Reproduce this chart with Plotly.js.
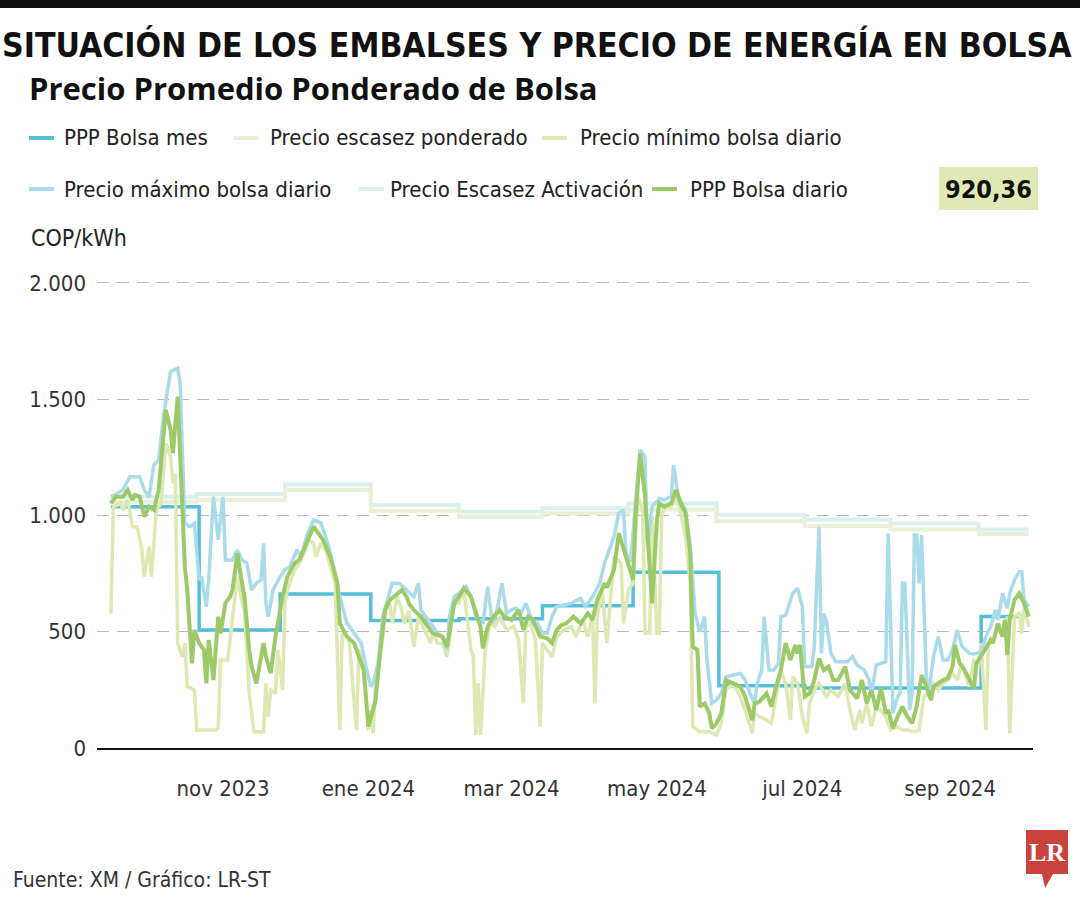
<!DOCTYPE html>
<html><head><meta charset="utf-8">
<script src="https://cdn.plot.ly/plotly-3.0.1.min.js"></script>
<style>html,body{margin:0;padding:0;background:#fff}#chart{width:1080px;height:900px}</style>
</head><body><div id="chart"></div>
<script>
// ---------- DATA ----------
const escDates = ['2023-09-15','2023-10-21','2023-11-27','2024-01-02','2024-02-08','2024-03-14','2024-04-19','2024-05-26','2024-07-02','2024-08-07','2024-09-13','2024-10-04'];
const escActivacion = [1081,1092,1134,1045,1016,1031,1052,1003,983,966,940,940];
const escPonderado = [1059,1067,1110,1020,994,1009,1026,975,955,940,920.36,920.36];

const mesDates = ['2023-09-15','2023-10-22','2023-11-25','2024-01-02','2024-02-08','2024-03-14','2024-04-21','2024-05-27','2024-07-02','2024-08-07','2024-09-14','2024-10-03'];
const mesValues = [1038,507,662,548,556,612,756,268,258,258,565,565];

const maxDates = ['2023-09-15','2023-09-17','2023-09-20','2023-09-23','2023-09-27','2023-09-29','2023-10-01','2023-10-03','2023-10-05','2023-10-07','2023-10-10','2023-10-13','2023-10-14','2023-10-15','2023-10-16','2023-10-18','2023-10-20','2023-10-22','2023-10-23','2023-10-25','2023-10-26','2023-10-28','2023-10-30','2023-11-01','2023-11-02','2023-11-05','2023-11-07','2023-11-09','2023-11-11','2023-11-13','2023-11-15','2023-11-17','2023-11-18','2023-11-19','2023-11-20','2023-11-22','2023-11-25','2023-11-27','2023-11-29','2023-12-02','2023-12-04','2023-12-06','2023-12-09','2023-12-12','2023-12-15','2023-12-17','2023-12-20','2023-12-23','2023-12-26','2023-12-29','2023-12-31','2024-01-02','2024-01-03','2024-01-05','2024-01-07','2024-01-09','2024-01-11','2024-01-14','2024-01-17','2024-01-20','2024-01-22','2024-01-23','2024-01-25','2024-01-28','2024-01-30','2024-02-01','2024-02-03','2024-02-04','2024-02-06','2024-02-08','2024-02-11','2024-02-13','2024-02-15','2024-02-18','2024-02-20','2024-02-22','2024-02-24','2024-02-26','2024-02-28','2024-03-01','2024-03-03','2024-03-05','2024-03-07','2024-03-10','2024-03-12','2024-03-14','2024-03-16','2024-03-18','2024-03-20','2024-03-23','2024-03-26','2024-03-30','2024-04-01','2024-04-04','2024-04-07','2024-04-09','2024-04-11','2024-04-13','2024-04-15','2024-04-17','2024-04-18','2024-04-20','2024-04-22','2024-04-24','2024-04-26','2024-04-27','2024-04-29','2024-05-02','2024-05-04','2024-05-07','2024-05-08','2024-05-10','2024-05-13','2024-05-15','2024-05-17','2024-05-19','2024-05-21','2024-05-22','2024-05-24','2024-05-26','2024-05-28','2024-05-30','2024-06-02','2024-06-05','2024-06-07','2024-06-09','2024-06-11','2024-06-12','2024-06-14','2024-06-15','2024-06-17','2024-06-19','2024-06-21','2024-06-22','2024-06-24','2024-06-27','2024-06-29','2024-07-01','2024-07-02','2024-07-05','2024-07-06','2024-07-08','2024-07-09','2024-07-10','2024-07-11','2024-07-13','2024-07-15','2024-07-18','2024-07-20','2024-07-22','2024-07-24','2024-07-27','2024-07-29','2024-07-30','2024-08-01','2024-08-03','2024-08-05','2024-08-06','2024-08-08','2024-08-10','2024-08-11','2024-08-12','2024-08-13','2024-08-15','2024-08-16','2024-08-17','2024-08-18','2024-08-19','2024-08-20','2024-08-22','2024-08-23','2024-08-25','2024-08-27','2024-08-29','2024-08-31','2024-09-02','2024-09-04','2024-09-06','2024-09-09','2024-09-11','2024-09-14','2024-09-16','2024-09-18','2024-09-20','2024-09-21','2024-09-23','2024-09-25','2024-09-26','2024-09-28','2024-09-30','2024-10-01','2024-10-02','2024-10-04'];
const maxValues = [1081,1090,1110,1167,1167,1110,1081,1217,1239,1425,1619,1633,1570,1282,968,952,966,723,737,608,723,1081,895,1081,809,809,852,809,795,680,709,723,880,623,565,680,737,766,780,852,823,909,981,968,880,795,651,537,493,451,350,264,278,364,565,637,709,708,680,651,708,594,565,522,493,479,422,565,651,665,694,651,565,536,694,536,594,708,579,594,601,579,622,536,536,493,493,565,608,615,622,644,608,651,708,794,852,909,1010,1024,837,800,1052,1282,1253,866,1038,1073,1067,1081,1217,1081,1024,866,579,500,565,378,192,206,235,307,314,321,292,235,192,278,335,565,335,335,364,565,572,665,687,608,350,350,436,952,407,579,551,407,371,371,371,393,357,335,292,235,357,364,371,923,149,221,235,708,708,163,235,916,916,708,916,307,235,393,479,378,378,422,508,436,407,404,414,479,522,594,551,665,601,665,723,758,758,637,608];

const minDates = ['2023-09-15','2023-09-16','2023-09-19','2023-09-20','2023-09-22','2023-09-24','2023-09-26','2023-09-28','2023-09-29','2023-10-01','2023-10-02','2023-10-04','2023-10-06','2023-10-08','2023-10-10','2023-10-11','2023-10-12','2023-10-13','2023-10-15','2023-10-16','2023-10-17','2023-10-20','2023-10-21','2023-10-29','2023-10-30','2023-10-31','2023-11-03','2023-11-05','2023-11-06','2023-11-07','2023-11-09','2023-11-10','2023-11-11','2023-11-12','2023-11-14','2023-11-18','2023-11-19','2023-11-20','2023-11-21','2023-11-23','2023-11-24','2023-11-26','2023-11-27','2023-11-28','2023-12-01','2023-12-03','2023-12-05','2023-12-07','2023-12-09','2023-12-10','2023-12-12','2023-12-14','2023-12-16','2023-12-18','2023-12-20','2023-12-21','2023-12-23','2023-12-24','2023-12-27','2023-12-28','2023-12-30','2024-01-01','2024-01-02','2024-01-03','2024-01-04','2024-01-07','2024-01-08','2024-01-10','2024-01-11','2024-01-13','2024-01-15','2024-01-16','2024-01-18','2024-01-20','2024-01-22','2024-01-24','2024-01-27','2024-01-28','2024-01-30','2024-02-01','2024-02-03','2024-02-05','2024-02-06','2024-02-08','2024-02-10','2024-02-13','2024-02-14','2024-02-15','2024-02-16','2024-02-17','2024-02-19','2024-02-21','2024-02-23','2024-02-25','2024-02-28','2024-03-02','2024-03-04','2024-03-06','2024-03-07','2024-03-09','2024-03-11','2024-03-13','2024-03-14','2024-03-16','2024-03-18','2024-03-20','2024-03-23','2024-03-26','2024-03-28','2024-03-31','2024-04-02','2024-04-04','2024-04-05','2024-04-06','2024-04-07','2024-04-08','2024-04-10','2024-04-12','2024-04-13','2024-04-16','2024-04-17','2024-04-19','2024-04-21','2024-04-23','2024-04-25','2024-04-26','2024-04-28','2024-04-29','2024-05-01','2024-05-02','2024-05-03','2024-05-05','2024-05-07','2024-05-09','2024-05-11','2024-05-13','2024-05-15','2024-05-16','2024-05-19','2024-05-23','2024-05-26','2024-05-28','2024-05-30','2024-06-02','2024-06-05','2024-06-07','2024-06-10','2024-06-11','2024-06-13','2024-06-16','2024-06-18','2024-06-20','2024-06-22','2024-06-24','2024-06-26','2024-06-27','2024-06-29','2024-07-01','2024-07-03','2024-07-04','2024-07-06','2024-07-08','2024-07-11','2024-07-13','2024-07-16','2024-07-19','2024-07-21','2024-07-23','2024-07-25','2024-07-26','2024-07-28','2024-07-30','2024-08-01','2024-08-03','2024-08-05','2024-08-07','2024-08-10','2024-08-12','2024-08-14','2024-08-17','2024-08-19','2024-08-21','2024-08-23','2024-08-25','2024-08-27','2024-08-29','2024-08-31','2024-09-02','2024-09-04','2024-09-06','2024-09-09','2024-09-11','2024-09-13','2024-09-14','2024-09-16','2024-09-17','2024-09-19','2024-09-21','2024-09-23','2024-09-25','2024-09-26','2024-09-28','2024-09-30','2024-10-01','2024-10-02','2024-10-04'];
const minValues = [579,1038,1052,1024,1067,952,952,852,737,866,737,1024,1052,1310,1253,1138,1181,451,393,451,264,249,77,77,85,378,378,565,651,737,622,594,422,235,70,70,278,135,249,235,422,249,622,680,766,794,837,895,880,823,880,852,780,709,77,493,479,451,77,422,364,77,163,64,278,465,594,622,537,651,594,536,590,436,565,522,451,493,451,451,393,565,622,622,680,422,393,56,278,56,422,536,522,565,508,522,465,192,522,536,465,92,451,422,393,479,508,522,479,551,479,565,192,565,622,680,451,680,823,794,536,680,708,1081,1024,493,493,995,493,493,1009,1038,1038,1081,1009,909,708,92,70,70,56,106,249,278,221,163,64,149,135,120,106,221,335,278,120,307,278,135,64,192,249,278,221,249,221,278,163,77,163,106,192,92,178,163,135,77,92,77,77,70,77,221,235,278,249,278,292,321,292,364,264,378,364,451,77,451,465,522,479,565,64,565,579,493,608,522];

const diaDates = ['2023-09-15','2023-09-17','2023-09-20','2023-09-22','2023-09-24','2023-09-25','2023-09-27','2023-09-29','2023-10-01','2023-10-03','2023-10-05','2023-10-06','2023-10-08','2023-10-10','2023-10-11','2023-10-13','2023-10-14','2023-10-15','2023-10-16','2023-10-17','2023-10-19','2023-10-20','2023-10-22','2023-10-24','2023-10-25','2023-10-26','2023-10-28','2023-10-30','2023-10-31','2023-11-02','2023-11-04','2023-11-05','2023-11-07','2023-11-09','2023-11-10','2023-11-12','2023-11-13','2023-11-15','2023-11-17','2023-11-18','2023-11-19','2023-11-21','2023-11-23','2023-11-26','2023-11-28','2023-12-01','2023-12-03','2023-12-06','2023-12-09','2023-12-11','2023-12-13','2023-12-16','2023-12-19','2023-12-20','2023-12-23','2023-12-26','2023-12-28','2023-12-30','2024-01-01','2024-01-02','2024-01-04','2024-01-06','2024-01-08','2024-01-10','2024-01-13','2024-01-15','2024-01-17','2024-01-18','2024-01-20','2024-01-23','2024-01-25','2024-01-28','2024-01-30','2024-02-01','2024-02-03','2024-02-04','2024-02-06','2024-02-08','2024-02-10','2024-02-13','2024-02-15','2024-02-17','2024-02-18','2024-02-20','2024-02-22','2024-02-25','2024-02-27','2024-03-01','2024-03-04','2024-03-06','2024-03-08','2024-03-10','2024-03-13','2024-03-16','2024-03-18','2024-03-20','2024-03-22','2024-03-24','2024-03-27','2024-03-30','2024-04-02','2024-04-04','2024-04-06','2024-04-09','2024-04-10','2024-04-13','2024-04-15','2024-04-17','2024-04-19','2024-04-21','2024-04-22','2024-04-24','2024-04-26','2024-04-28','2024-04-29','2024-05-01','2024-05-02','2024-05-04','2024-05-07','2024-05-09','2024-05-11','2024-05-13','2024-05-15','2024-05-16','2024-05-18','2024-05-19','2024-05-21','2024-05-23','2024-05-24','2024-05-26','2024-05-28','2024-05-30','2024-06-02','2024-06-05','2024-06-07','2024-06-10','2024-06-11','2024-06-13','2024-06-16','2024-06-18','2024-06-20','2024-06-22','2024-06-24','2024-06-26','2024-06-28','2024-06-29','2024-06-30','2024-07-02','2024-07-04','2024-07-06','2024-07-08','2024-07-10','2024-07-12','2024-07-14','2024-07-16','2024-07-19','2024-07-21','2024-07-24','2024-07-26','2024-07-28','2024-07-30','2024-08-01','2024-08-03','2024-08-05','2024-08-06','2024-08-08','2024-08-10','2024-08-12','2024-08-14','2024-08-16','2024-08-18','2024-08-19','2024-08-20','2024-08-22','2024-08-24','2024-08-25','2024-08-27','2024-08-29','2024-08-31','2024-09-02','2024-09-03','2024-09-05','2024-09-07','2024-09-09','2024-09-11','2024-09-12','2024-09-14','2024-09-16','2024-09-18','2024-09-19','2024-09-21','2024-09-23','2024-09-24','2024-09-25','2024-09-26','2024-09-28','2024-09-30','2024-10-02','2024-10-04'];
const diaValues = [1052,1081,1081,1110,1067,1088,1081,995,1038,1024,1110,1239,1454,1368,1268,1511,1282,995,780,680,364,508,451,422,278,465,292,565,493,623,651,680,837,708,651,422,350,278,393,451,393,322,479,651,737,794,809,880,952,923,895,823,708,536,479,451,393,335,92,135,206,422,594,637,665,680,651,622,594,565,536,493,486,479,436,508,622,651,687,651,579,522,429,522,558,594,565,551,594,508,565,551,479,472,451,508,529,536,565,536,579,551,637,708,690,766,923,852,780,723,995,1268,1081,809,622,981,1052,1038,1052,1110,1052,1009,837,436,422,178,192,149,85,106,149,292,278,264,221,120,192,199,235,178,264,335,451,378,443,407,443,221,235,292,385,335,350,292,292,350,249,213,292,192,249,163,257,149,163,85,135,178,135,106,178,235,314,264,206,264,278,292,300,350,443,364,335,292,257,364,393,429,465,451,536,479,551,400,551,637,665,622,565];

const monthTicks = ['2023-11-01','2024-01-01','2024-03-01','2024-05-01','2024-07-01','2024-09-01'];
const monthLabels = ['nov 2023','ene 2024','mar 2024','may 2024','jul 2024','sep 2024'];
const yTicks = [0,500,1000,1500,2000];
const yLabels = ['0','500','1.000','1.500','2.000'];
const lastValueLabel = '920,36';

// ---------- STYLE ----------
const NARROW = '"DejaVu Sans Condensed", "Liberation Sans Narrow", sans-serif';
const C = {
  mes:'#55bfda', pond:'#e8f0d8', min:'#dde8b2', max:'#a9dbeb', act:'#dbefec', dia:'#9cca69'
};
const W=1080, H=900, L=97, R=47, T=269, B=152;
const PW=W-L-R, PH=H-T-B;
const fx = x => (x-L)/PW;           // pixel -> paper
const fy = y => (H-B-y)/PH;

const traces = [
  {x:escDates, y:escActivacion, name:'Precio Escasez Activación', mode:'lines', line:{color:C.act, width:4, shape:'hv'}},
  {x:escDates, y:escPonderado, name:'Precio escasez ponderado', mode:'lines', line:{color:C.pond, width:4, shape:'hv'}},
  {x:mesDates, y:mesValues, name:'PPP Bolsa mes', mode:'lines', line:{color:C.mes, width:3.5, shape:'hv'}},
  {x:minDates, y:minValues, name:'Precio mínimo bolsa diario', mode:'lines', line:{color:C.min, width:3.5}},
  {x:maxDates, y:maxValues, name:'Precio máximo bolsa diario', mode:'lines', line:{color:C.max, width:3.5}},
  {x:diaDates, y:diaValues, name:'PPP Bolsa diario', mode:'lines', line:{color:C.dia, width:4}}
];

const legendItems = [
  {name:'PPP Bolsa mes', color:C.mes, sx:29, tx:62, y:138},
  {name:'Precio escasez ponderado', color:C.pond, sx:234, tx:268, y:138},
  {name:'Precio mínimo bolsa diario', color:C.min, sx:542, tx:578, y:138},
  {name:'Precio máximo bolsa diario', color:C.max, sx:29, tx:62, y:189},
  {name:'Precio Escasez Activación', color:C.act, sx:359, tx:388, y:189},
  {name:'PPP Bolsa diario', color:C.dia, sx:652, tx:688, y:189}
];

const shapes = [
  {type:'rect', xref:'paper', yref:'paper', x0:fx(0), x1:fx(1080), y0:fy(0), y1:fy(8), fillcolor:'#111', line:{width:0}, layer:'above'},
  {type:'rect', xref:'paper', yref:'paper', x0:fx(939), x1:fx(1038), y0:fy(167), y1:fy(210), fillcolor:'#e0e9b6', line:{width:0}},
  {type:'path', xref:'paper', yref:'paper', fillcolor:'#c9433c', line:{width:0},
   path:'M '+fx(1026)+','+fy(830)+' L '+fx(1068)+','+fy(830)+' L '+fx(1068)+','+fy(874)+' L '+fx(1053)+','+fy(874)+' L '+fx(1045)+','+fy(888)+' L '+fx(1042)+','+fy(874)+' L '+fx(1026)+','+fy(874)+' Z'}
];
legendItems.forEach(it => shapes.push({type:'line', xref:'paper', yref:'paper', x0:fx(it.sx), x1:fx(it.sx+25), y0:fy(it.y), y1:fy(it.y), line:{color:it.color, width:4}}));

const annotations = [
  {text:'<b>Precio Promedio Ponderado de Bolsa</b>', x:fx(27), y:fy(88), xanchor:'left', yanchor:'middle', font:{family:'"Open Sans", sans-serif', size:31, color:'#111'}},
  {text:'COP/kWh', x:fx(29), y:fy(238), xanchor:'left', yanchor:'middle', font:{family:NARROW, size:23, color:'#222'}},
  {text:'<b>'+lastValueLabel+'</b>', x:fx(988), y:fy(189), xanchor:'center', yanchor:'middle', font:{family:NARROW, size:25, color:'#111'}},
  {text:'Fuente: XM / Gráfico: LR-ST', x:fx(11), y:fy(880), xanchor:'left', yanchor:'middle', font:{family:NARROW, size:21, color:'#333'}},
  {text:'<b>LR</b>', x:fx(1047), y:fy(852), xanchor:'center', yanchor:'middle', font:{family:'"Liberation Serif", serif', size:26, color:'#fff'}}
];
legendItems.forEach(it => annotations.push({text:it.name, x:fx(it.tx), y:fy(it.y), xanchor:'left', yanchor:'middle', font:{family:NARROW, size:22, color:'#222'}}));
annotations.forEach(a => { a.xref='paper'; a.yref='paper'; a.showarrow=false; });

const layout = {
  width:W, height:H, margin:{l:L, r:R, t:T, b:B, pad:0},
  paper_bgcolor:'#fff', plot_bgcolor:'#fff', showlegend:false,
  font:{family:NARROW, color:'#333'},
  title:{text:'<b>SITUACIÓN DE LOS EMBALSES Y PRECIO DE ENERGÍA EN BOLSA</b>', x:2/W, xanchor:'left', xref:'container', y:1-45/H, yanchor:'middle', yref:'container', font:{family:NARROW, size:33.5, color:'#111'}},
  xaxis:{type:'date', range:['2023-09-09 03:36','2024-10-05 18:00'], tickvals:monthTicks, ticktext:monthLabels, showgrid:false, zeroline:false, showline:true, linecolor:'#111', linewidth:2, ticks:'', ticklabelstandoff:20, tickfont:{family:NARROW, size:22, color:'#333'}},
  yaxis:{range:[0,2060], tickvals:yTicks, ticktext:yLabels, showgrid:true, gridcolor:'#b8b8b8', gridwidth:1, griddash:'12px,8px', zeroline:false, showline:false, ticks:'', ticklabelstandoff:10, tickfont:{family:NARROW, size:22, color:'#333'}},
  shapes:shapes, annotations:annotations
};

Plotly.newPlot('chart', traces, layout, {displayModeBar:false, staticPlot:true});
</script>
</body></html>
